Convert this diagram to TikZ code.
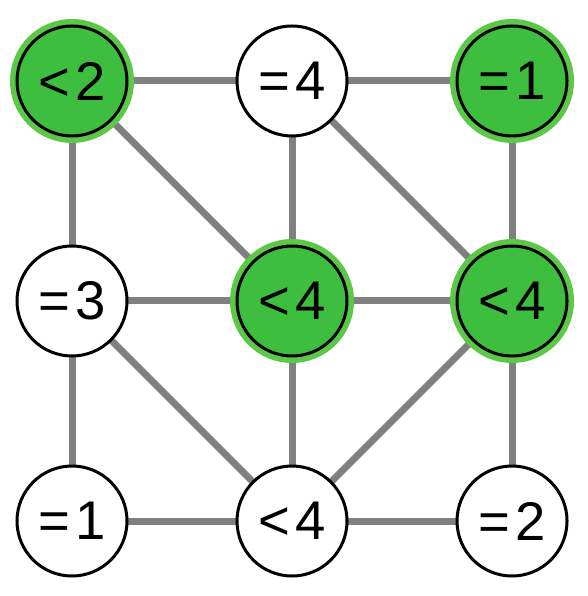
\documentclass[tikz,border=0pt]{standalone}
\usepackage{fontspec}
\setmainfont{Liberation Sans}
\usepackage{tikz}
\usetikzlibrary{positioning,backgrounds}
\definecolor{nodegreen}{RGB}{62,190,62}
\definecolor{ringgreen}{RGB}{92,200,72}
\definecolor{edgegray}{RGB}{128,128,128}

\begin{document}
\begin{tikzpicture}[
  node distance=1.1cm and 1.1cm,
  cell/.style={circle, draw=black, line width=0.03cm, fill=white,
               minimum size=1.1cm, inner sep=0pt, outer sep=0pt,
               font=\fontsize{15.5}{18}\selectfont},
  hit/.style={fill=nodegreen, preaction={draw=ringgreen, line width=0.14cm}},
  link/.style={draw=edgegray, line width=0.07cm}
]
\useasboundingbox (-0.72,0.81) rectangle (5.15,-5.15);

% top row
\node[cell, hit] (a1) {<\kern1.5pt2};
\node[cell, right=of a1] (a2) {=\kern1.5pt4};
\node[cell, hit, right=of a2] (a3) {=\kern1.5pt1};
% middle row
\node[cell, below=of a1] (b1) {=\kern1.5pt3};
\node[cell, hit, right=of b1] (b2) {<\kern1.5pt4};
\node[cell, hit, right=of b2] (b3) {<\kern1.5pt4};
% bottom row
\node[cell, below=of b1] (c1) {=\kern1.5pt1};
\node[cell, right=of c1] (c2) {<\kern1.5pt4};
\node[cell, right=of c2] (c3) {=\kern1.5pt2};

\begin{scope}[on background layer]
\draw[link] (a1) -- (a2);
\draw[link] (a2) -- (a3);
\draw[link] (b1) -- (b2);
\draw[link] (b2) -- (b3);
\draw[link] (c1) -- (c2);
\draw[link] (c2) -- (c3);
\draw[link] (a1) -- (b1);
\draw[link] (b1) -- (c1);
\draw[link] (a2) -- (b2);
\draw[link] (b2) -- (c2);
\draw[link] (a3) -- (b3);
\draw[link] (b3) -- (c3);
\draw[link] (a1) -- (b2);
\draw[link] (a2) -- (b3);
\draw[link] (b1) -- (c2);
\draw[link] (b3) -- (c2);
\end{scope}
\end{tikzpicture}
\end{document}
